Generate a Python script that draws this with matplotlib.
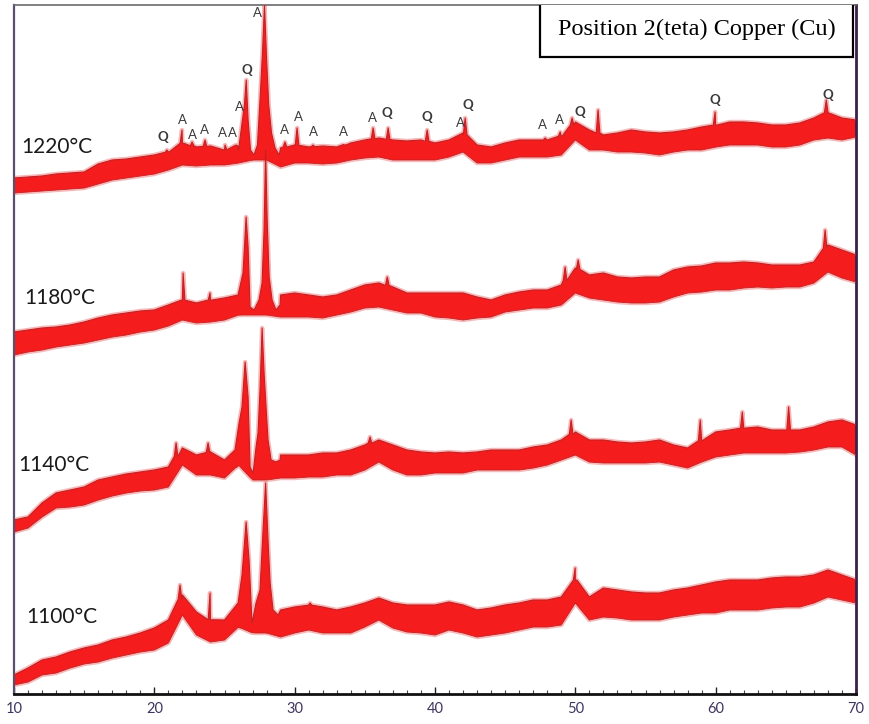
import numpy as np
import matplotlib
matplotlib.use("Agg")
import matplotlib.pyplot as plt
from matplotlib.ticker import MultipleLocator
from matplotlib.patches import Rectangle

# ---------------------------------------------------------------------------
# Data (intensity in arbitrary units)
# ---------------------------------------------------------------------------

deg = np.arange(10, 71)   # 2-theta sampling of the band envelopes

# 1220 °C
up_1220 = [516, 517, 518, 520, 521, 522, 530, 534, 535, 537, 539, 542, 551, 547, 548, 544,
           549, 546, 546, 546, 549, 547, 548, 547, 551, 554, 556, 554, 553, 554, 551, 554,
           561, 549, 547, 551, 554, 554, 554, 558, 572, 564, 559, 561, 564, 562, 561, 562,
           564, 567, 569, 572, 572, 571, 569, 569, 571, 576, 582, 576, 574]
lo_1220 = [501, 502, 503, 504, 505, 506, 510, 514, 516, 518, 520, 524, 529, 528, 529, 529,
           531, 534, 534, 527, 531, 531, 530, 531, 534, 536, 537, 534, 534, 534, 534, 537,
           542, 531, 531, 534, 537, 537, 537, 539, 554, 544, 544, 542, 542, 541, 539, 542,
           544, 544, 547, 549, 549, 549, 547, 547, 549, 554, 556, 554, 557]
pk_x_1220 = [26.0, 26.3, 26.42, 26.55, 26.68, 26.85, 27.1, 27.35, 27.55, 27.7, 27.85, 28.0,
             28.15, 28.35, 28.6, 28.9]
pk_y_1220 = [544, 576, 589, 614, 574, 544, 539, 549, 599, 639, 689, 634, 589, 561, 546, 539]
sp_x_1220 = [20.9, 21.97, 22.69, 23.61, 25.04, 25.82, 29.31, 30.17, 31.31, 33.59, 35.59,
             36.66, 39.44, 42.15, 47.85, 48.92, 49.77, 51.62, 59.96, 67.88]
sp_y_1220 = [544, 564, 552, 554, 549, 549, 552, 566, 549, 549, 566, 566, 564, 576, 556, 562,
             576, 584, 582, 594]

# 1180 °C
up_1180 = [362, 364, 366, 367, 369, 372, 376, 379, 381, 383, 384, 389, 394, 391, 394, 396,
           399, 389, 389, 399, 401, 399, 397, 399, 404, 409, 411, 407, 401, 401, 401, 401,
           401, 397, 394, 399, 402, 404, 404, 409, 426, 419, 421, 417, 416, 417, 417, 424,
           427, 428, 431, 431, 432, 431, 429, 429, 429, 432, 449, 444, 439]
lo_1180 = [339, 342, 344, 347, 349, 351, 354, 357, 359, 362, 364, 368, 374, 371, 372, 374,
           379, 379, 379, 377, 377, 377, 376, 379, 382, 386, 387, 384, 381, 381, 377, 376,
           374, 376, 377, 382, 384, 386, 386, 389, 401, 396, 394, 392, 391, 391, 392, 397,
           401, 402, 404, 404, 406, 407, 406, 407, 407, 411, 422, 416, 412]
pk_x_1180 = [25.97, 26.32, 26.54, 26.68, 26.82, 27.11, 27.46, 27.68, 27.82, 27.93, 28.04,
             28.18, 28.39, 28.67, 28.96]
pk_y_1180 = [399, 421, 477, 447, 387, 384, 394, 411, 464, 544, 474, 417, 394, 384, 389]
sp_x_1180 = [22.05, 23.97, 36.6, 49.27, 50.2, 67.8]
sp_y_1180 = [421, 401, 417, 427, 434, 464]

# 1140 °C
up_1140 = [174, 177, 191, 201, 204, 207, 214, 217, 220, 222, 224, 227, 246, 239, 242, 234,
           254, 227, 227, 239, 239, 239, 241, 241, 244, 249, 254, 249, 244, 242, 241, 242,
           241, 242, 244, 244, 244, 247, 249, 254, 262, 254, 254, 252, 251, 252, 254, 249,
           246, 254, 262, 264, 266, 267, 264, 264, 264, 267, 272, 274, 269]
lo_1140 = [162, 166, 177, 186, 187, 189, 194, 198, 201, 203, 204, 207, 229, 219, 219, 216,
           229, 214, 214, 216, 216, 217, 217, 219, 219, 224, 232, 224, 219, 219, 221, 221,
           221, 224, 224, 224, 224, 226, 229, 234, 239, 232, 231, 231, 231, 231, 232, 229,
           226, 232, 237, 239, 241, 241, 241, 241, 242, 244, 247, 247, 239]
pk_x_1140 = [25.75, 26.04, 26.25, 26.47, 26.68, 26.82, 27.04, 27.25, 27.39, 27.53, 27.68,
             27.82, 27.96, 28.1, 28.32, 28.67, 28.96]
pk_y_1140 = [244, 271, 287, 332, 297, 227, 221, 247, 261, 304, 366, 321, 287, 254, 234, 232,
             234]
sp_x_1140 = [21.55, 23.83, 35.37, 49.7, 58.9, 61.9, 65.2]
sp_y_1140 = [251, 251, 257, 274, 274, 282, 287]

# 1100 °C
up_1100 = [19, 26, 34, 37, 42, 46, 49, 54, 57, 61, 66, 74, 99, 82, 74, 74,
           89, 79, 79, 84, 87, 89, 87, 84, 87, 91, 96, 91, 89, 89, 89, 92,
           89, 84, 86, 89, 91, 94, 94, 97, 114, 97, 106, 104, 102, 101, 101, 104,
           106, 109, 112, 114, 114, 114, 116, 117, 117, 119, 124, 119, 114]
lo_1100 = [9, 12, 19, 21, 26, 30, 32, 36, 39, 42, 44, 51, 79, 59, 52, 54,
           67, 61, 61, 57, 61, 64, 61, 61, 61, 67, 74, 66, 62, 61, 59, 64,
           61, 57, 59, 61, 64, 67, 67, 69, 91, 74, 77, 76, 74, 74, 74, 77,
           79, 81, 81, 84, 84, 84, 86, 87, 87, 91, 97, 94, 91]
pk_x_1100 = [25.97, 26.25, 26.54, 26.75, 26.96, 27.25, 27.53, 27.75, 27.93, 28.1, 28.25,
             28.46, 28.82]
pk_y_1100 = [91, 119, 172, 134, 71, 91, 104, 164, 211, 154, 111, 84, 79]
sp_x_1100 = [21.83, 23.97, 31.1, 49.99]
sp_y_1100 = [109, 101, 91, 126]

temps = ["1220°C", "1180°C", "1140°C", "1100°C"]
temp_label_x = [10.55, 10.75, 10.3, 10.9]
temp_label_y = [547, 396, 229, 77]

# phase marks above the 1220 °C pattern (A / Q)
mark_txt = ["Q", "A", "A", "A", "A", "A", "A", "Q", "A", "A", "A", "A", "A", "A", "Q", "Q",
            "A", "Q", "A", "A", "Q", "Q", "Q"]
mark_x = [20.6, 21.97, 22.69, 23.54, 24.82, 25.6, 26.1, 26.6, 27.32, 29.25, 30.24, 31.31,
          33.45, 35.52, 36.59, 39.44, 41.79, 42.36, 47.63, 48.85, 50.35, 59.97, 68.0]
mark_y = [557, 574, 559, 564, 561, 561, 587, 624, 681, 564, 577, 562, 562, 576, 581, 577,
          571, 589, 569, 574, 582, 594, 599]

legend_text = "Position 2(teta) Copper (Cu)"

# ---------------------------------------------------------------------------
# Style
# ---------------------------------------------------------------------------

RED = "#f41c1c"
FRINGE = "#f08080"
AXIS_TXT = "#3f3560"

plt.rcParams.update({
    "font.family": ["Lato", "DejaVu Sans"],
})


def draw_trace(ax, upper, lower, pk_x, pk_y, sp_x, sp_y):
    grid = deg.astype(float)
    upper = np.asarray(upper, float)
    lower = np.asarray(lower, float)
    keep = (grid < pk_x[0]) | (grid > pk_x[-1])
    xs = list(grid[keep]) + list(pk_x)
    ys = list(upper[keep]) + list(pk_y)
    # narrow spikes sitting on the noisy band
    for sx, sy in zip(sp_x, sp_y):
        base = np.interp(sx, grid, upper)
        xs += [sx - 0.13, sx, sx + 0.13]
        ys += [base, sy, base]
    order = np.argsort(xs)
    xs = np.asarray(xs)[order]
    ys = np.asarray(ys)[order]
    lo = np.interp(xs, grid, lower)
    # light fringe first, then the dense red band on top
    ax.plot(xs, ys, color=FRINGE, lw=3.2, alpha=0.55, zorder=1, solid_joinstyle="round")
    ax.plot(xs, lo, color=FRINGE, lw=3.2, alpha=0.55, zorder=1, solid_joinstyle="round")
    ax.fill_between(xs, lo, ys, facecolor=RED, linewidth=0, zorder=2)
    ax.plot(xs, ys, color="#c42024", lw=0.8, zorder=3)
    ax.plot(xs, lo, color="#c42024", lw=0.6, zorder=3)


fig = plt.figure(figsize=(8.69, 7.24), dpi=100, facecolor="white")
ax = fig.add_axes([14 / 869, 30 / 724, 842 / 869, 689 / 724])

draw_trace(ax, up_1220, lo_1220, pk_x_1220, pk_y_1220, sp_x_1220, sp_y_1220)
draw_trace(ax, up_1180, lo_1180, pk_x_1180, pk_y_1180, sp_x_1180, sp_y_1180)
draw_trace(ax, up_1140, lo_1140, pk_x_1140, pk_y_1140, sp_x_1140, sp_y_1140)
draw_trace(ax, up_1100, lo_1100, pk_x_1100, pk_y_1100, sp_x_1100, sp_y_1100)

for t, tx, ty in zip(temps, temp_label_x, temp_label_y):
    ax.text(tx, ty, t, fontsize=15, color="#1a1a1a", va="center", ha="left", zorder=5)

for t, mx, my in zip(mark_txt, mark_x, mark_y):
    ax.text(mx, my, t, fontsize=9.5, color="#3a3a3a", ha="center", va="center",
            fontweight="bold" if t == "Q" else "normal", zorder=5)

# title box in the upper right corner
ax.add_patch(Rectangle((0.6247, 0.9245), 0.3717, 0.0800, transform=ax.transAxes,
                       facecolor="white", edgecolor="black", lw=1.6, zorder=6))
ax.text(0.8105, 0.9650, legend_text, transform=ax.transAxes, fontsize=17.5,
        family="Liberation Serif", ha="center", va="center", zorder=7)

ax.set_xlim(10, 70)
ax.set_ylim(0, 689)
ax.xaxis.set_major_locator(MultipleLocator(10))
ax.xaxis.set_minor_locator(MultipleLocator(1))
ax.tick_params(axis="x", which="major", direction="in", length=5, width=1,
               colors="#222222", labelcolor=AXIS_TXT, labelsize=10.5, pad=6)
ax.tick_params(axis="x", which="minor", direction="in", length=3, width=0.8,
               colors="#444444")
ax.set_yticks([])

ax.spines["left"].set_color("#5a506e")
ax.spines["left"].set_linewidth(1.6)
ax.spines["top"].set_color("#6a6a6a")
ax.spines["top"].set_linewidth(1.2)
ax.spines["right"].set_color("#3d1f4a")
ax.spines["right"].set_linewidth(2)
ax.spines["bottom"].set_color("#111111")
ax.spines["bottom"].set_linewidth(2)

fig.savefig("out.png", dpi=100)
